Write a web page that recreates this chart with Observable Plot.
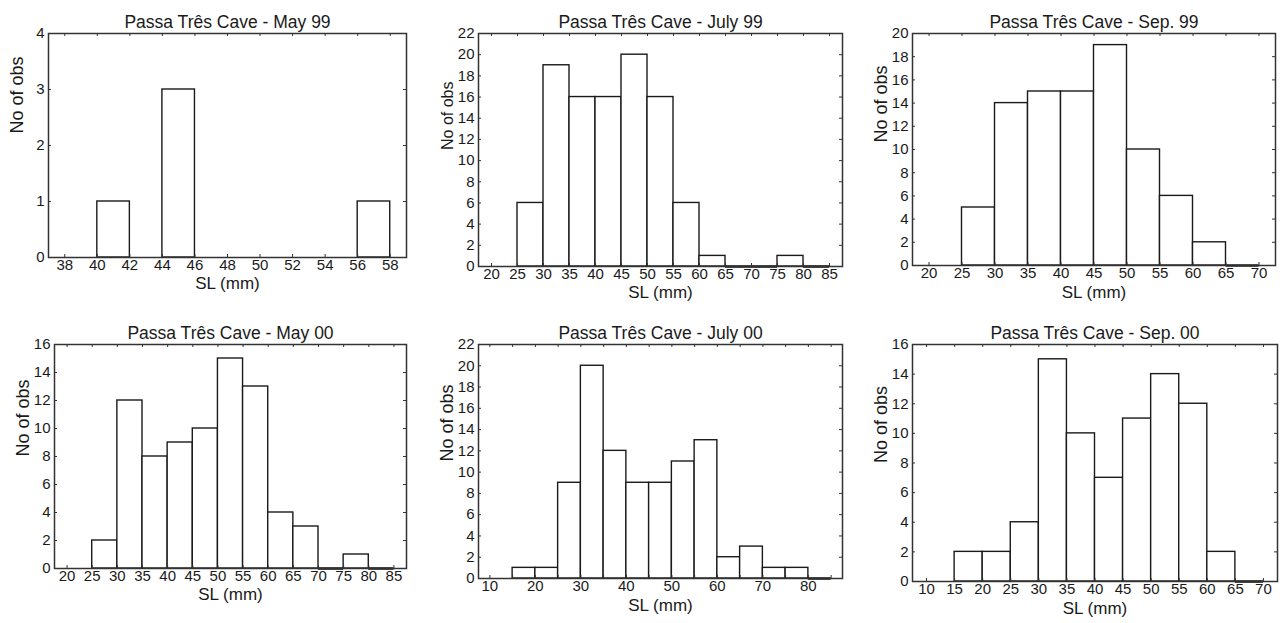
<!DOCTYPE html>
<html>
<head>
<meta charset="utf-8">
<script src="https://cdn.jsdelivr.net/npm/d3@7"></script>
<script src="https://cdn.jsdelivr.net/npm/@observablehq/plot@0.6"></script>
<style>
  html, body { margin: 0; padding: 0; background: #fff; }
  #wrap { position: relative; width: 1284px; height: 623px; overflow: hidden; background: #fff; }
  .panel { position: absolute; }
</style>
</head>
<body>
<div id="wrap"></div>
<script>
// ---------- DATA ----------
const titles = [
  "Passa Três Cave - May 99",
  "Passa Três Cave - July 99",
  "Passa Três Cave - Sep. 99",
  "Passa Três Cave - May 00",
  "Passa Três Cave - July 00",
  "Passa Três Cave - Sep. 00"
];
const xLabel = "SL (mm)";
const yLabel = "No of obs";

// bin lower edges and counts per panel
const may99Bins   = [40, 44, 56];
const may99Counts = [1, 3, 1];
const may99Width  = 2;

const jul99Bins   = [25, 30, 35, 40, 45, 50, 55, 60, 65, 70, 75, 80];
const jul99Counts = [6, 19, 16, 16, 20, 16, 6, 1, 0, 0, 1, 0];

const sep99Bins   = [25, 30, 35, 40, 45, 50, 55, 60, 65];
const sep99Counts = [5, 14, 15, 15, 19, 10, 6, 2, 0];

const may00Bins   = [25, 30, 35, 40, 45, 50, 55, 60, 65, 70, 75, 80];
const may00Counts = [2, 12, 8, 9, 10, 15, 13, 4, 3, 0, 1, 0];

const jul00Bins   = [15, 20, 25, 30, 35, 40, 45, 50, 55, 60, 65, 70, 75, 80];
const jul00Counts = [1, 1, 9, 20, 12, 9, 9, 11, 13, 2, 3, 1, 1, 0];

const sep00Bins   = [15, 20, 25, 30, 35, 40, 45, 50, 55, 60, 65];
const sep00Counts = [2, 2, 4, 15, 10, 7, 11, 14, 12, 2, 0];

const binWidth5 = 5;

// tick labels
const may99XTicks = [38, 40, 42, 44, 46, 48, 50, 52, 54, 56, 58];
const jul99XTicks = [20, 25, 30, 35, 40, 45, 50, 55, 60, 65, 70, 75, 80, 85];
const sep99XTicks = [20, 25, 30, 35, 40, 45, 50, 55, 60, 65, 70];
const may00XTicks = [20, 25, 30, 35, 40, 45, 50, 55, 60, 65, 70, 75, 80, 85];
const jul00XTicks = [10, 20, 30, 40, 50, 60, 70, 80];
const jul00XMinor = [10, 15, 20, 25, 30, 35, 40, 45, 50, 55, 60, 65, 70, 75, 80, 85];
const sep00XTicks = [10, 15, 20, 25, 30, 35, 40, 45, 50, 55, 60, 65, 70];

const may99YTicks = [0, 1, 2, 3, 4];
const jul99YTicks = [0, 2, 4, 6, 8, 10, 12, 14, 16, 18, 20, 22];
const sep99YTicks = [0, 2, 4, 6, 8, 10, 12, 14, 16, 18, 20];
const may00YTicks = [0, 2, 4, 6, 8, 10, 12, 14, 16];
const jul00YTicks = [0, 2, 4, 6, 8, 10, 12, 14, 16, 18, 20, 22];
const sep00YTicks = [0, 2, 4, 6, 8, 10, 12, 14, 16];

const may99XDomain = [37, 59];
const jul99XDomain = [17.5, 87.5];
const sep99XDomain = [17.5, 72.5];
const may00XDomain = [17.5, 87.5];
const jul00XDomain = [7.5, 87.5];
const sep00XDomain = [7.5, 72.5];

// ---------- LAYOUT ----------
const panels = [
  {title: titles[0], bins: may99Bins, counts: may99Counts, bw: may99Width, xd: may99XDomain, xt: may99XTicks, xm: may99XTicks, yt: may99YTicks,
   left: 0,   top: 0,   W: 428, H: 305, ml: 48, mr: 22, mt: 33, mb: 48, ylDy: -12, ylSize: 18, xlDy: 31},
  {title: titles[1], bins: jul99Bins, counts: jul99Counts, bw: binWidth5, xd: jul99XDomain, xt: jul99XTicks, xm: jul99XTicks, yt: jul99YTicks,
   left: 428, top: 0,   W: 428, H: 305, ml: 50, mr: 14, mt: 33, mb: 39, ylDy: 0, ylSize: 16, xlDy: 31},
  {title: titles[2], bins: sep99Bins, counts: sep99Counts, bw: binWidth5, xd: sep99XDomain, xt: sep99XTicks, xm: sep99XTicks, yt: sep99YTicks,
   left: 856, top: 0,   W: 428, H: 305, ml: 56, mr: 9,  mt: 33, mb: 40, ylDy: -7, ylSize: 18, xlDy: 32},
  {title: titles[3], bins: may00Bins, counts: may00Counts, bw: binWidth5, xd: may00XDomain, xt: may00XTicks, xm: may00XTicks, yt: may00YTicks,
   left: 0,   top: 305, W: 428, H: 318, ml: 54, mr: 22, mt: 39, mb: 55, ylDy: 0, ylSize: 18, xlDy: 31},
  {title: titles[4], bins: jul00Bins, counts: jul00Counts, bw: binWidth5, xd: jul00XDomain, xt: jul00XTicks, xm: jul00XMinor, yt: jul00YTicks,
   left: 428, top: 305, W: 428, H: 318, ml: 50, mr: 14, mt: 39, mb: 45, ylDy: 0, ylSize: 18, xlDy: 32},
  {title: titles[5], bins: sep00Bins, counts: sep00Counts, bw: binWidth5, xd: sep00XDomain, xt: sep00XTicks, xm: sep00XTicks, yt: sep00YTicks,
   left: 856, top: 305, W: 428, H: 318, ml: 56, mr: 7,  mt: 39, mb: 42, ylDy: 0, ylSize: 18, xlDy: 32}
];

const FONT = "'Liberation Sans', Arial, Helvetica, sans-serif";
const INK = "#1a1a1a";
const TICK_FS = 15;

const wrap = document.getElementById("wrap");

for (const p of panels) {
  const data = p.bins.map((b, i) => ({x0: b, x1: b + p.bw, count: p.counts[i]}));
  const zeros = data.filter(d => d.count === 0);
  const chart = Plot.plot({
    width: p.W, height: p.H,
    marginLeft: p.ml, marginRight: p.mr, marginTop: p.mt, marginBottom: p.mb,
    style: {fontFamily: FONT, fontSize: "15px", color: INK, background: "white", overflow: "visible"},
    x: {domain: p.xd, axis: null},
    y: {domain: [0, p.yt[p.yt.length - 1]], axis: null},
    marks: [
      Plot.rectY(data.filter(d => d.count > 0), {x1: "x0", x2: "x1", y: "count", fill: "white", stroke: INK, strokeWidth: 1.4}),
      Plot.ruleY(zeros, {x1: "x0", x2: "x1", y: 0, stroke: INK, strokeWidth: 2.6}),
      Plot.frame({stroke: "#333", strokeWidth: 1.5}),
      // tick labels (through the scales)
      Plot.text(p.xt, {x: d => d, text: d => String(d), frameAnchor: "bottom", lineAnchor: "top", dy: 2, fontSize: TICK_FS, fill: INK}),
      Plot.text(p.yt, {y: d => d, text: d => String(d), frameAnchor: "left", textAnchor: "end", dx: -4, fontSize: TICK_FS, fill: INK}),
      // inward ticks on all four sides
      Plot.tickX(p.xm, {x: d => d, stroke: "#333", strokeWidth: 1, insetTop: p.H - p.mt - p.mb - 3}),
      Plot.tickX(p.xm, {x: d => d, stroke: "#333", strokeWidth: 1, insetBottom: p.H - p.mt - p.mb - 3}),
      Plot.tickY(p.yt, {y: d => d, stroke: "#333", strokeWidth: 1, insetRight: p.W - p.ml - p.mr - 3}),
      Plot.tickY(p.yt, {y: d => d, stroke: "#333", strokeWidth: 1, insetLeft: p.W - p.ml - p.mr - 3}),
      // title and axis titles
      Plot.text([p.title], {text: d => d, frameAnchor: "top", dy: -18, fontSize: 17.5, fill: INK}),
      Plot.text([xLabel], {text: d => d, frameAnchor: "bottom", dy: p.xlDy, fontSize: 17, fill: INK}),
      Plot.text([yLabel], {text: d => d, frameAnchor: "left", dx: -31, dy: p.ylDy, rotate: -90, fontSize: p.ylSize, fill: INK})
    ]
  });
  const div = document.createElement("div");
  div.className = "panel";
  div.style.left = p.left + "px";
  div.style.top = p.top + "px";
  div.appendChild(chart);
  wrap.appendChild(div);
}
</script>
</body>
</html>
